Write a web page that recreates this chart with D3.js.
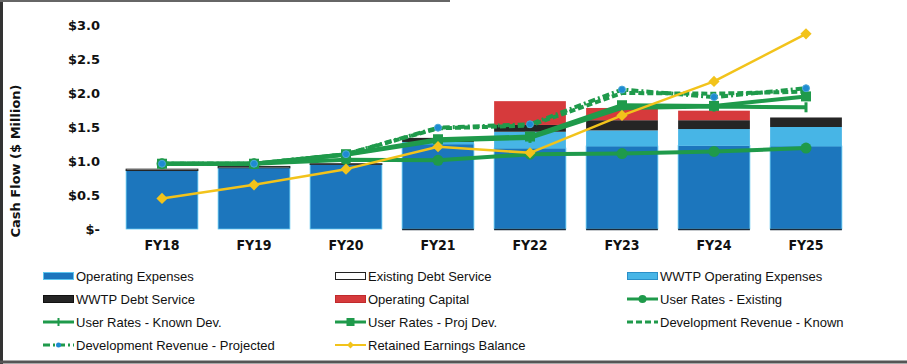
<!DOCTYPE html>
<html>
<head>
<meta charset="utf-8">
<script src="https://cdn.jsdelivr.net/npm/d3@7"></script>
<style>
  html, body { margin: 0; padding: 0; background: #fff; }
  svg { display: block; }
</style>
</head>
<body>
<svg id="chart" width="907" height="364"></svg>
<script>
// ---- data ----
const categories = ["FY18", "FY19", "FY20", "FY21", "FY22", "FY23", "FY24", "FY25"];
const operatingExpenses     = [0.86, 0.90, 0.95, 1.25, 1.19, 1.22, 1.23, 1.22];
const existingDebtService   = [0.02, 0.02, 0.01, 0.00, 0.00, 0.00, 0.00, 0.00];
const wwtpOperatingExpenses = [0.00, 0.00, 0.00, 0.03, 0.24, 0.23, 0.24, 0.28];
const wwtpDebtService       = [0.00, 0.00, 0.00, 0.06, 0.10, 0.15, 0.13, 0.14];
const operatingCapital      = [0.00, 0.00, 0.00, 0.00, 0.35, 0.18, 0.14, 0.00];
const userRatesExisting     = [0.96, 0.96, 1.02, 1.01, 1.10, 1.11, 1.14, 1.19];
const userRatesKnownDev     = [0.96, 0.96, 1.09, 1.30, 1.34, 1.78, 1.80, 1.79];
const userRatesProjDev      = [0.96, 0.96, 1.10, 1.32, 1.36, 1.82, 1.81, 1.95];
const devRevenueKnown       = [0.96, 0.96, 1.10, 1.48, 1.52, 2.00, 1.99, 2.02];
const devRevenueProjected   = [0.96, 0.96, 1.10, 1.49, 1.54, 2.05, 1.94, 2.07];
const retainedEarnings      = [0.45, 0.65, 0.88, 1.21, 1.12, 1.67, 2.17, 2.87];
const yTicks = [0, 0.5, 1.0, 1.5, 2.0, 2.5, 3.0];

const C = {
  opex: "#1c76bd", exist: "#ffffff", wwtpOpex: "#47b5e6", wwtpDebt: "#252525",
  opCap: "#d63a3c", green: "#1f9a4b", blue: "#1e8ad2", yellow: "#f2c31b"
};

const svg = d3.select("#chart");

// frame
svg.append("line").attr("x1", 1.5).attr("x2", 1.5).attr("y1", 0).attr("y2", 364)
  .attr("stroke", "#333").attr("stroke-width", 3);
svg.append("line").attr("x1", 0).attr("x2", 907).attr("y1", 362).attr("y2", 362)
  .attr("stroke", "#555").attr("stroke-width", 3);
svg.append("line").attr("x1", 0).attr("x2", 450).attr("y1", 1).attr("y2", 1)
  .attr("stroke", "#666").attr("stroke-width", 2);

const x = d3.scaleBand().domain(categories).range([116, 852]).paddingInner(0.22).paddingOuter(0.11);
const y = d3.scaleLinear().domain([0, 3]).range([229, 25]);

// y axis
const yAxis = d3.axisLeft(y).tickValues(yTicks).tickSize(0).tickPadding(0)
  .tickFormat(v => v === 0 ? "$-" : "$" + v.toFixed(1));
const gy = svg.append("g").attr("transform", "translate(100,0)").call(yAxis);
gy.select(".domain").remove();
gy.selectAll("text").attr("font-family", "DejaVu Sans").attr("font-weight", "bold")
  .attr("font-size", 13).attr("fill", "#111");

// x axis
const xAxis = d3.axisBottom(x).tickSize(0).tickPadding(0);
const gx = svg.append("g").attr("transform", "translate(0,240)").call(xAxis);
gx.select(".domain").remove();
gx.selectAll("text").attr("font-family", "DejaVu Sans Condensed, DejaVu Sans").attr("font-weight", "bold")
  .attr("font-size", 14).attr("fill", "#111");

// y title
svg.append("text").attr("transform", "translate(20,161) rotate(-90)")
  .attr("text-anchor", "middle").attr("font-family", "DejaVu Sans").attr("font-weight", "bold")
  .attr("font-size", 13).attr("fill", "#111").text("Cash Flow ($ Million)");

// stacked bars
const keys = ["opex", "exist", "wwtpOpex", "wwtpDebt", "opCap"];
const rows = categories.map((c, i) => ({
  cat: c, opex: operatingExpenses[i], exist: existingDebtService[i],
  wwtpOpex: wwtpOperatingExpenses[i], wwtpDebt: wwtpDebtService[i], opCap: operatingCapital[i]
}));
const stack = d3.stack().keys(keys)(rows);
stack.forEach(layer => {
  svg.append("g").selectAll("rect").data(layer.filter(d => d[1] - d[0] > 0)).join("rect")
    .attr("x", d => x(d.data.cat))
    .attr("width", x.bandwidth())
    .attr("y", d => y(d[1]))
    .attr("height", d => y(d[0]) - y(d[1]))
    .attr("fill", C[layer.key])
    .attr("stroke", layer.key === "exist" ? "#222" : (layer.key === "opex" ? "#5cc6f0" : "none"))
    .attr("stroke-width", layer.key === "exist" ? 1 : 0.8);
});
// dark base line under later bars
svg.append("g").selectAll("line").data(categories.filter((c, i) => wwtpOperatingExpenses[i] > 0)).join("line")
  .attr("x1", d => x(d)).attr("x2", d => x(d) + x.bandwidth())
  .attr("y1", y(0) + 0.5).attr("y2", y(0) + 0.5).attr("stroke", "#1a2a3a").attr("stroke-width", 1.5);

// lines
const line = d3.line().x((d, i) => x(categories[i]) + x.bandwidth() / 2).y(d => y(d));
function drawLine(vals, opts) {
  svg.append("path").datum(vals).attr("d", line).attr("fill", "none")
    .attr("stroke", opts.color).attr("stroke-width", opts.width)
    .attr("stroke-dasharray", opts.dash || null).attr("stroke-linejoin", "round");
  const g = svg.append("g");
  vals.forEach((v, i) => {
    const cx = x(categories[i]) + x.bandwidth() / 2, cy = y(v);
    if (opts.marker === "circle") {
      g.append("circle").attr("cx", cx).attr("cy", cy).attr("r", 5.5).attr("fill", opts.color);
    } else if (opts.marker === "square") {
      g.append("rect").attr("x", cx - 5).attr("y", cy - 5).attr("width", 10).attr("height", 10).attr("fill", opts.color);
    } else if (opts.marker === "tick") {
      g.append("rect").attr("x", cx - 1.5).attr("y", cy - 5).attr("width", 3).attr("height", 10).attr("fill", opts.color);
    } else if (opts.marker === "dot") {
      g.append("circle").attr("cx", cx).attr("cy", cy).attr("r", 3.5).attr("fill", C.blue)
        .attr("stroke", "#4aa8d8").attr("stroke-width", 1);
    } else if (opts.marker === "diamond") {
      g.append("path").attr("d", d3.symbol(d3.symbolDiamond2, 80)()).attr("transform", `translate(${cx},${cy})`)
        .attr("fill", opts.color);
    }
  });
}
drawLine(userRatesExisting,   { color: C.green, width: 4, marker: "circle" });
drawLine(userRatesKnownDev,   { color: C.green, width: 4, marker: "tick" });
drawLine(userRatesProjDev,    { color: C.green, width: 4, marker: "square" });
drawLine(devRevenueKnown,     { color: C.green, width: 4, dash: "6,3" });
drawLine(devRevenueProjected, { color: C.green, width: 4, dash: "7,3,2,3", marker: "dot" });
drawLine(retainedEarnings,    { color: C.yellow, width: 2.5, marker: "diamond" });

// legend
const legendItems = [
  { name: "Operating Expenses", type: "rect", fill: C.opex, stroke: "#5cc6f0" },
  { name: "Existing Debt Service", type: "rect", fill: "#fff", stroke: "#222" },
  { name: "WWTP Operating Expenses", type: "rect", fill: C.wwtpOpex, stroke: "#2a8fc8" },
  { name: "WWTP Debt Service", type: "rect", fill: C.wwtpDebt, stroke: "#111" },
  { name: "Operating Capital", type: "rect", fill: C.opCap, stroke: "#c02a2c" },
  { name: "User Rates - Existing", type: "line", color: C.green, marker: "circle" },
  { name: "User Rates - Known Dev.", type: "line", color: C.green, marker: "tick" },
  { name: "User Rates - Proj Dev.", type: "line", color: C.green, marker: "square" },
  { name: "Development Revenue - Known", type: "line", color: C.green, dash: "6,3" },
  { name: "Development Revenue - Projected", type: "line", color: C.green, dash: "7,3,2,3", marker: "dot" },
  { name: "Retained Earnings Balance", type: "line", color: C.yellow, marker: "diamond", width: 2 }
];
const colX = [43, 335, 627];
const rowY = [276, 299, 322, 345];
const lg = svg.append("g");
legendItems.forEach((it, i) => {
  const cx0 = colX[i % 3], cy = rowY[Math.floor(i / 3)];
  const g = lg.append("g");
  if (it.type === "rect") {
    g.append("rect").attr("x", cx0 + 0.5).attr("y", cy - 3.5).attr("width", 30).attr("height", 7)
      .attr("fill", it.fill).attr("stroke", it.stroke).attr("stroke-width", 1);
  } else {
    g.append("line").attr("x1", cx0).attr("x2", cx0 + 31).attr("y1", cy).attr("y2", cy)
      .attr("stroke", it.color).attr("stroke-width", it.width || 3).attr("stroke-dasharray", it.dash || null);
    const mx = cx0 + 15.5;
    if (it.marker === "circle") g.append("circle").attr("cx", mx).attr("cy", cy).attr("r", 4).attr("fill", it.color);
    if (it.marker === "square") g.append("rect").attr("x", mx - 4).attr("y", cy - 4).attr("width", 8).attr("height", 8).attr("fill", it.color);
    if (it.marker === "tick") g.append("rect").attr("x", mx - 1).attr("y", cy - 4).attr("width", 2).attr("height", 8).attr("fill", it.color);
    if (it.marker === "dot") g.append("circle").attr("cx", mx).attr("cy", cy).attr("r", 2.5).attr("fill", C.blue);
    if (it.marker === "diamond") g.append("path").attr("d", d3.symbol(d3.symbolDiamond2, 30)()).attr("transform", `translate(${mx},${cy})`).attr("fill", it.color);
  }
  g.append("text").attr("x", cx0 + 33).attr("y", cy).attr("dy", "0.35em")
    .attr("font-family", "Liberation Sans, Arial, sans-serif").attr("font-size", 13).attr("fill", "#111")
    .text(it.name);
});
</script>
</body>
</html>
